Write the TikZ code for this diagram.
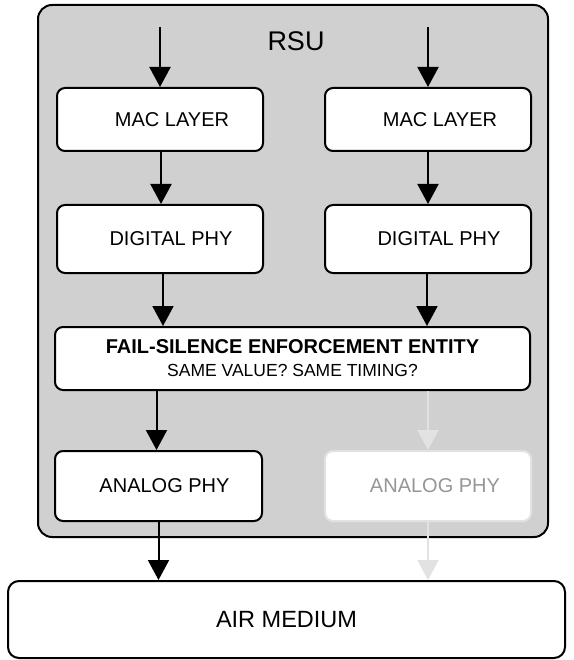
\documentclass[tikz,border=0pt]{standalone}
\usepackage{fontspec}
\setmainfont{Liberation Sans}
\usetikzlibrary{arrows.meta}
\definecolor{rsugray}{RGB}{208,208,208}
\definecolor{ghost}{RGB}{226,226,226}
\definecolor{ghosttext}{RGB}{150,150,150}
\begin{document}
\begin{tikzpicture}[x=1pt,y=-1pt,
  layerbox/.style={draw=black, line width=2pt, rounded corners=8pt, fill=white,
    minimum width=206pt, minimum height=63pt, inner sep=0pt,
    font=\fontsize{20}{24}\selectfont},
  ghostbox/.style={layerbox, draw=ghost, text=ghosttext},
  arr/.style={draw=black, line width=2pt, -{Triangle[length=20pt,width=21pt]}},
  ghostarr/.style={arr, draw=ghost, -{Triangle[length=20pt,width=21pt,fill=ghost]}}]
\useasboundingbox (0,0) rectangle (573,660);
% outer RSU container
\node[draw=black, line width=2pt, rounded corners=14pt, fill=rsugray,
      minimum width=510pt, minimum height=532pt, inner sep=0pt] (rsu) at (293,271) {};
\node[font=\fontsize{27}{32}\selectfont, inner sep=0pt] (rsulabel) at (296,41) {RSU};
% input coordinates
\coordinate (in1) at (160,27);
\coordinate (in2) at (428,27);
% layer boxes
\node[layerbox] (mac1) at (160,119.5) {\hspace*{24pt}MAC LAYER};
\node[layerbox] (mac2) at (428,119.5) {\hspace*{24pt}MAC LAYER};
\node[layerbox, minimum height=68pt] (dphy1) at (160,239) {\hspace*{22pt}DIGITAL PHY};
\node[layerbox, minimum height=68pt] (dphy2) at (428,239) {\hspace*{22pt}DIGITAL PHY};
\node[layerbox, minimum width=475pt, minimum height=63pt, align=center] (fse) at (292.5,358.5)
  {{\bfseries FAIL-SILENCE ENFORCEMENT ENTITY}\\[-1pt]{\fontsize{17.5}{21}\selectfont SAME VALUE? SAME TIMING?}};
\node[layerbox, minimum width=207pt, minimum height=70pt] (ana1) at (158.5,486) {\hspace*{12pt}ANALOG PHY};
\node[ghostbox, minimum height=70pt] (ana2) at (428,486) {\hspace*{14pt}ANALOG PHY};
\node[draw=black, line width=2pt, rounded corners=11pt, fill=white,
      minimum width=557pt, minimum height=77pt, inner sep=0pt,
      font=\fontsize{23.5}{28}\selectfont] (air) at (286.5,619.5) {AIR MEDIUM};
% connectors
\draw[arr] (in1) -- (in1 |- mac1.north);
\draw[arr] (in2) -- (in2 |- mac2.north);
\draw[arr] ([xshift=1pt]mac1.south) -- ([xshift=1pt]dphy1.north);
\draw[arr] (mac2.south) -- (dphy2.north);
\draw[arr] ([xshift=3pt]dphy1.south) -- ([xshift=3pt]dphy1.south |- fse.north);
\draw[arr] ([xshift=-1pt]dphy2.south) -- ([xshift=-1pt]dphy2.south |- fse.north);
\draw[arr] ([xshift=-2pt]ana1.north |- fse.south) -- ([xshift=-2pt]ana1.north);
\draw[ghostarr] (ana2.north |- fse.south) -- (ana2.north);
\draw[arr] (ana1.south) -- (ana1.south |- air.north);
\draw[ghostarr] (ana2.south) -- (ana2.south |- air.north);
\end{tikzpicture}
\end{document}
